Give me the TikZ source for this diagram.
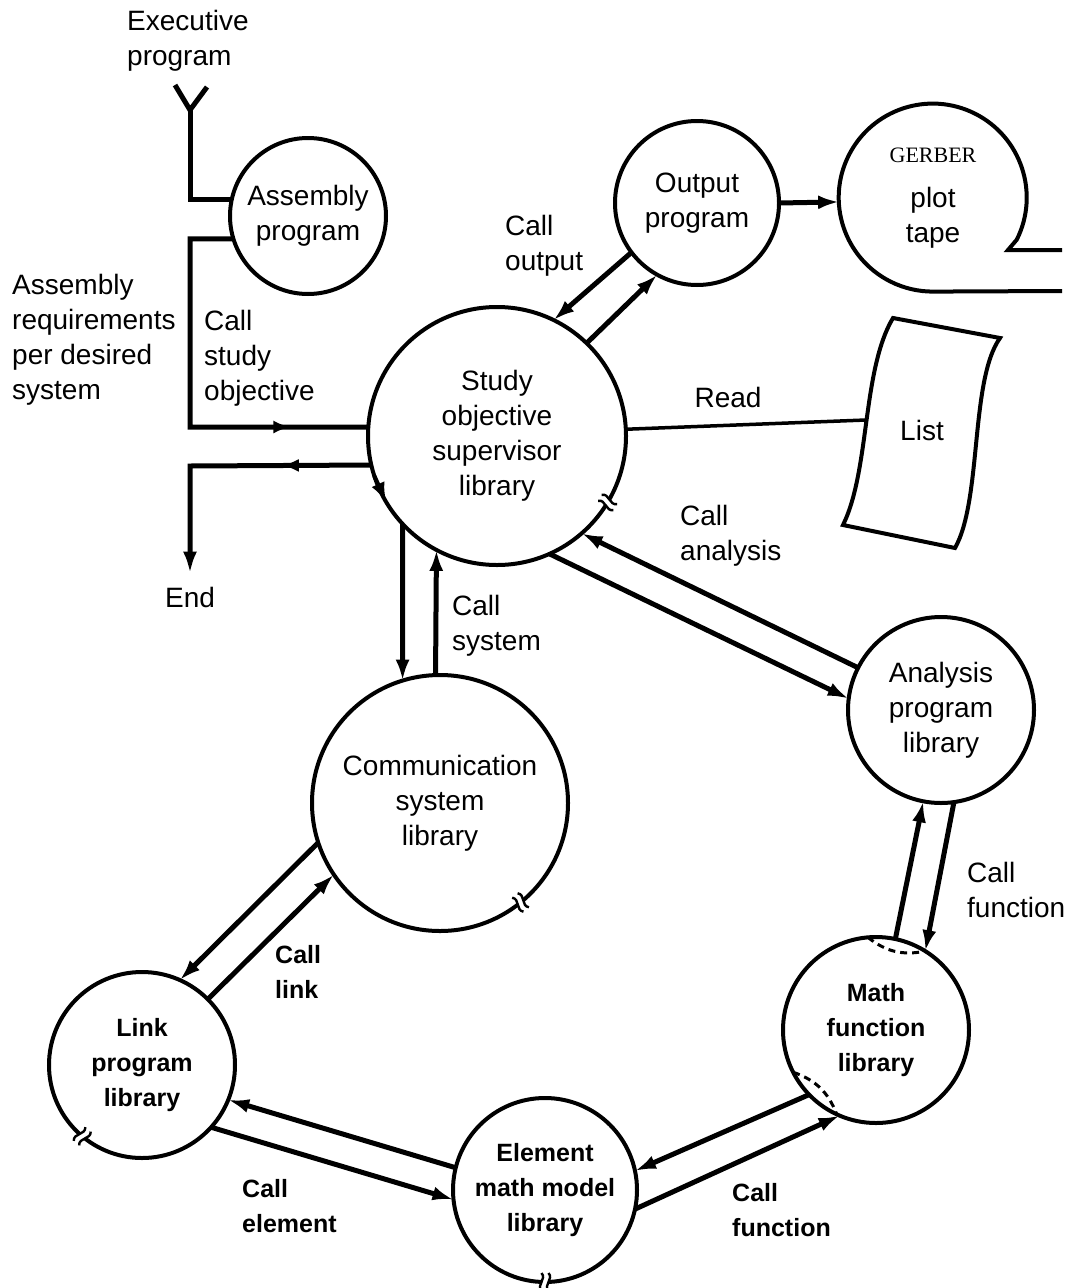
\documentclass[tikz,border=0pt]{standalone}
\usepackage{fontspec}
\setmainfont{Liberation Sans}
\newfontfamily\gerberfont{Liberation Serif}
\usetikzlibrary{arrows.meta,decorations.markings}
\newcommand\brkmark[2]{%
  \begin{scope}[shift={(#1)},rotate=#2]
    \fill[white] (-10,-3.5) rectangle (10,3.5);
    \draw[line width=2.4pt] (-9,-3.5) .. controls (-3,-9) and (3,2) .. (9,-3.5);
    \draw[line width=2.4pt] (-9,3.5) .. controls (-3,-2) and (3,9) .. (9,3.5);
  \end{scope}}
\begin{document}
\begin{tikzpicture}[x=1pt,y=-1pt,
  lib/.style={circle,draw,line width=4pt,inner sep=0pt,outer sep=0pt,align=center,font=\fontsize{28}{35}\selectfont},
  libb/.style={lib,font=\fontsize{25}{35}\selectfont\bfseries},
  lbl/.style={align=left,anchor=west,inner sep=0pt,font=\fontsize{28}{35}\selectfont},
  lblb/.style={lbl,font=\fontsize{25}{35}\selectfont\bfseries},
  conn/.style={line width=5pt,-{Latex[length=21pt,width=14pt]}},
  wire/.style={line width=5pt},
  outline/.style={line width=4pt},
  midarr/.style={postaction={decorate},decoration={markings,mark=at position #1 with {\arrow{Latex[length=17pt,width=13pt]}}}},
  hidden/.style={line width=3pt,dash pattern=on 7pt off 5pt}
]
\useasboundingbox (0,0) rectangle (1084,1288);
\fill[white] (0,0) rectangle (1084,1288);

% circles
\node[lib,minimum size=156pt] (asm) at (308,216) {Assembly\\program};
\node[lib,minimum size=164pt] (out) at (697,203) {Output\\program};
\node[circle,minimum size=188pt,inner sep=0pt,outer sep=0pt] (tape) at (933,197) {};
\node[lib,minimum size=258pt] (sos) at (497,436) {Study\\objective\\supervisor\\library};
\node[lib,minimum size=256pt] (comm) at (440,803) {Communication\\system\\library};
\node[lib,minimum size=186pt] (ana) at (941,710) {Analysis\\program\\library};
\node[libb,minimum size=186pt] (math) at (876,1030) {Math\\function\\library};
\node[libb,minimum size=184pt] (elem) at (545,1190) {Element\\math model\\library};
\node[libb,minimum size=186pt] (link) at (142,1065) {Link\\program\\library};

% tape reel
\draw[outline] (1062,250) -- (1008,250) -- (tape.333) arc[start angle=26.6,end angle=-270,radius=94] -- (1062,291);
\node[font=\gerberfont\fontsize{22}{26}\selectfont,inner sep=0pt] (lger) at (933,155) {GERBER};
\node[lbl,anchor=center,align=center] (lplot) at (933,218) {plot\\tape};

% list sheet
\draw[outline] (893,318) -- (1000,338) .. controls (970,380) and (982,500) .. (955,548)
  -- (843,525) .. controls (870,470) and (862,370) .. (893,318) -- cycle;
\coordinate (listin) at (866,420);
\node[lbl,anchor=center] (llist) at (922,430) {List};

% labels
\node[lbl] (lexec) at (127,41) {Executive\\program};
\node[lbl] (lreq) at (12,340) {Assembly\\requirements\\per desired\\system};
\node[lbl] (lcso) at (204,358) {Call\\study\\objective};
\node[lbl] (lco) at (505,246) {Call\\output};
\node[lbl,anchor=center] (lread) at (728,397) {Read};
\node[lbl] (lca) at (680,536) {Call\\analysis};
\node[lbl] (lcs) at (452,626) {Call\\system};
\node[lblb] (lcl) at (275,972) {Call\\link};
\node[lblb] (lce) at (242,1206) {Call\\element};
\node[lblb] (lcf1) at (732,1210) {Call\\function};
\node[lbl] (lcf2) at (967,890) {Call\\function};
\node[lbl,anchor=center,inner ysep=13pt] (endn) at (190,597) {End};

% executive input
\coordinate (ya) at (175,85);
\coordinate (yb) at (207,87);
\coordinate (ys) at (190,110);
\draw[wire] (ya) -- (ys) -- (yb);
\draw[wire] (ys) |- (asm.168);

% call study objective
\coordinate (c1) at (190,427);
\draw[wire,midarr=0.81] (asm.197) -| (c1) -- (sos.176);

% return to end
\coordinate (c2) at (190,466);
\draw[wire,midarr=0.31,-{Latex[length=22pt,width=14pt]}] (sos.193) -- (c2) -- (endn.north);

% arrow on study circle
\draw[line width=4pt,-{Latex[length=20pt,width=14pt]}] (sos.198) -- (sos.211);

% study <-> output
\draw[conn] (out.217) -- (sos.64);
\draw[conn] (sos.46) -- (out.241);
\draw[conn] (out.0) -- (tape.183);

% read
\draw[line width=3.5pt] (sos.3) -- (listin);

% study <-> communication
\draw[conn] (sos.223) -- (comm.107);
\draw[conn] (comm.92) -- (sos.242);

% study <-> analysis
\draw[conn] (ana.153) -- (sos.311);
\draw[conn] (sos.294) -- (ana.173);

% communication <-> link
\draw[conn] (comm.198) -- (link.66);
\draw[conn] (link.45) -- (comm.214);

% link <-> element
\draw[conn] (elem.166) -- (link.338);
\draw[conn] (link.318) -- (elem.186);

% element <-> math
\draw[conn] (math.224) -- (elem.12);
\draw[conn] (elem.348) -- (math.247);

% math <-> analysis
\draw[conn] (math.78) -- (ana.259);
\draw[conn] (ana.278) -- (math.58);

% hidden edges on math circle
\draw[hidden] (math.95) to[bend right=25] (math.58);
\draw[hidden] (math.207) to[bend left=25] (math.245);

% break marks
\brkmark{sos.329}{329}
\brkmark{comm.309}{309}
\brkmark{link.230}{230}
\brkmark{elem.270}{270}
\end{tikzpicture}
\end{document}
